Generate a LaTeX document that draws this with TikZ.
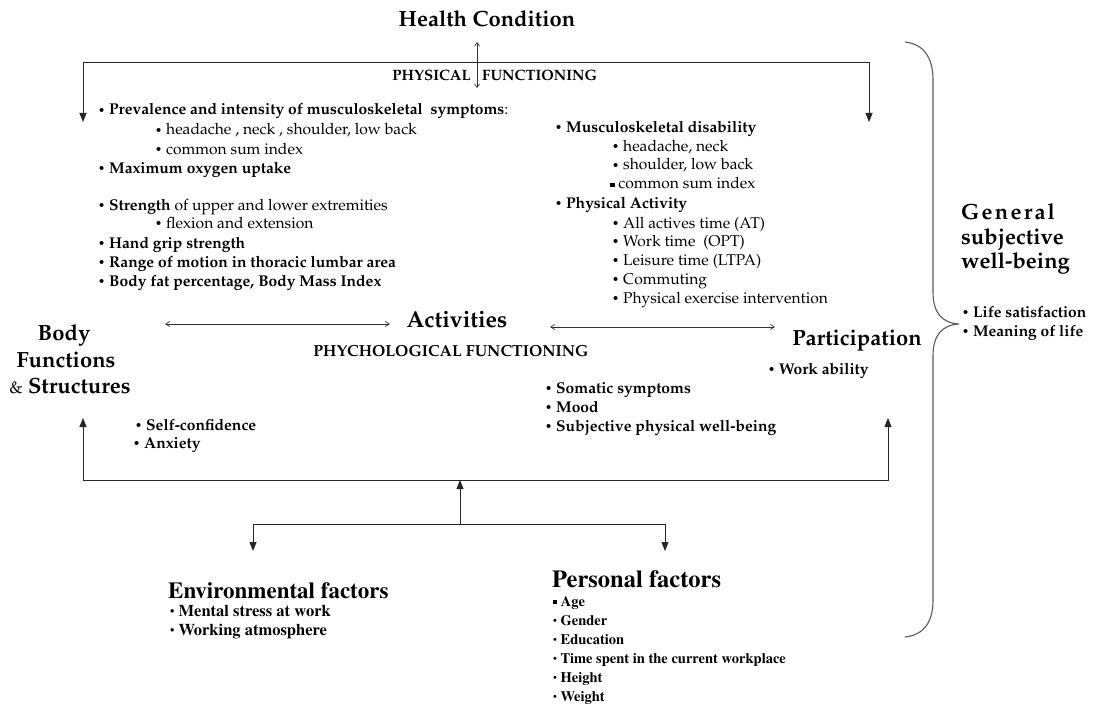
\documentclass[tikz,border=0pt]{standalone}
\usepackage[T1]{fontenc}
\usepackage{mathpazo}
\usepackage{graphicx}
\usetikzlibrary{arrows.meta}
\newcommand\myfs[1]{\fontsize{#1}{#1}\selectfont}
\newcommand\bul{\raisebox{0.1ex}{\scalebox{0.75}{\textbullet}}\ }
\newcommand\sqb{\rule[0.25ex]{0.28em}{0.28em}\ }
\newcommand\tms{\fontfamily{ptm}\selectfont}
\makeatletter
\newcommand\spacedword[2]{\def\my@sp{#1}\@tfor\my@c:=#2\do{\my@c\kern\my@sp}}
\makeatother
\begin{document}
\begin{tikzpicture}[x=1pt,y=-1pt,
  txt/.style={anchor=base west,inner sep=0pt,font=\myfs{15.6}},
  btxt/.style={txt,font=\myfs{15.6}\bfseries},
  head/.style={anchor=base,inner sep=0pt,font=\myfs{22}\bfseries},
  caps/.style={inner sep=0pt,font=\myfs{15}\bfseries},
  ttxt/.style={anchor=base west,inner sep=0pt,font=\myfs{14.5}\tms\bfseries},
  etxt/.style={anchor=base west,inner sep=0pt,font=\myfs{16.5}\tms\bfseries},
  gtxt/.style={anchor=base west,inner sep=0pt,font=\myfs{22}\bfseries},
  ln/.style={line width=0.8pt,draw=black!85},
  tri/.style={ln,-{Triangle[length=9pt,width=7pt]}},
  thin/.style={line width=0.7pt,draw=black!80,{Straight Barb[length=4pt,width=5pt]}-{Straight Barb[length=4pt,width=5pt]}},
  brace/.style={line width=1.1pt,draw=black!65}]
\useasboundingbox (0,0) rectangle (1095,706);

% ---------- headings ----------
\node[head] (hc) at (487,27) {Health Condition};
\node[caps,anchor=base east] (pf1) at (471,81) {PHYSICAL};
\node[caps,anchor=base west] (pf2) at (482,81) {FUNCTIONING};
\node[head] (body) at (64,340) {Body};
\node[head] (func) at (66,367) {Functions};
\node[head] (struct) at (70,393) {{\mdseries\myfs{17}\&} Structures};
\node[head,font=\myfs{23}\bfseries] (act) at (457,327) {Activities};
\node[head] (part) at (857,345) {Participation};
\node[caps,anchor=base,font=\myfs{16}\bfseries] (psy) at (451,356) {PHYCHOLOGICAL FUNCTIONING};

% ---------- physical functioning, left ----------
\node[btxt] (l1) at (98,115) {\bul Prevalence and intensity of musculoskeletal\ \ symptoms\mdseries:};
\node[txt] (l2) at (155,135) {\bul headache , neck , shoulder, low back};
\node[txt] (l3) at (155,154) {\bul common sum index};
\node[btxt] (l4) at (98,173) {\bul Maximum oxygen uptake};
\node[txt] (l5) at (98,210) {\bul \textbf{Strength} of upper and lower extremities};
\node[txt] (l6) at (155,228) {\bul flexion and extension};
\node[btxt] (l7) at (98,248) {\bul Hand grip strength};
\node[btxt] (l8) at (98,267) {\bul Range of motion in thoracic lumbar area};
\node[btxt] (l9) at (98,286) {\bul Body fat percentage, Body Mass Index};

% ---------- physical functioning, right ----------
\node[btxt] (r1) at (555,132) {\bul Musculoskeletal disability};
\node[txt] (r2) at (612,151) {\bul headache, neck};
\node[txt] (r3) at (612,170) {\bul shoulder, low back};
\node[txt] (r4) at (610,189) {\sqb common sum index};
\node[btxt] (r5) at (555,208) {\bul Physical Activity};
\node[txt] (r6) at (612,228) {\bul All actives time (AT)};
\node[txt] (r7) at (612,246) {\bul Work time\ \ (OPT)};
\node[txt] (r8) at (612,265) {\bul Leisure time (LTPA)};
\node[txt] (r9) at (612,284) {\bul Commuting};
\node[txt] (r10) at (612,303) {\bul Physical exercise intervention};

% ---------- psychological ----------
\node[btxt] (wa) at (768,374) {\bul Work ability};
\node[btxt] (s1) at (545,393) {\bul Somatic symptoms};
\node[btxt] (s2) at (545,412) {\bul Mood};
\node[btxt] (s3) at (545,431) {\bul Subjective physical well-being};
\node[btxt] (sc) at (135,430) {\bul Self-confidence};
\node[btxt] (ax) at (133,448) {\bul Anxiety};

% ---------- general well-being ----------
\node[gtxt] (g1) at (961,219) {\spacedword{2.2pt}{General}};
\node[gtxt] (g2) at (961,244) {subjective};
\node[gtxt] (g3) at (961,268) {well-being};
\node[anchor=base west,inner sep=0pt,font=\myfs{15.5}\bfseries] (g4) at (962,317) {\bul Life satisfaction};
\node[anchor=base west,inner sep=0pt,font=\myfs{15.5}\bfseries] (g5) at (962,336) {\bul Meaning of life};

% ---------- factors ----------
\node[anchor=base west,inner sep=0pt,font=\myfs{23}\tms\bfseries] (env) at (168,598) {Environmental factors};
\node[etxt] (e1) at (170,616) {\bul Mental stress at work};
\node[etxt] (e2) at (170,635) {\bul Working atmosphere};
\node[anchor=base west,inner sep=0pt,font=\myfs{24.5}\tms\bfseries] (pers) at (552,587) {Personal factors};
\node[ttxt] (p1) at (553,606) {\sqb Age};
\node[ttxt] (p2) at (553,625) {\bul Gender};
\node[ttxt] (p3) at (553,644) {\bul Education};
\node[ttxt] (p4) at (553,663) {\bul Time spent in the current workplace};
\node[ttxt] (p5) at (553,682) {\bul Height};
\node[ttxt] (p6) at (553,701) {\bul Weight};

% ---------- connectors ----------
\coordinate (hcu) at (477,42);
\coordinate (hcd) at (477,88);
\draw[line width=0.7pt,draw=black!80,{Straight Barb[length=3.5pt,width=5pt]}-{Straight Barb[length=3.5pt,width=5pt]}] (hcu) -- (hcd);

\coordinate (tl) at (83,62);
\coordinate (tr) at (869,62);
\coordinate (tla) at (83,122);
\coordinate (tra) at (869,122);
\draw[tri] (tl) -- (tla);
\draw[tri] (tl) -- (tr) -- (tra);

\coordinate (ba1) at (165,324);
\coordinate (ba2) at (390,324);
\coordinate (ba3) at (550,327);
\coordinate (ba4) at (775,327);
\draw[thin] (ba1) -- (ba2);
\draw[thin] (ba3) -- (ba4);

\coordinate (bl) at (83,480);
\coordinate (br) at (888,480);
\coordinate (bla) at (83,418);
\coordinate (bra) at (888,418);
\draw[tri] (bl) -- (bla);
\draw[tri] (bl) -- (br) -- (bra);

\coordinate (mid) at (460,524);
\coordinate (midt) at (460,480);
\draw[tri] (mid) -- (midt);
\coordinate (fl) at (253,524);
\coordinate (fr) at (665,524);
\coordinate (fla) at (253,551);
\coordinate (fra) at (665,551);
\draw[tri] (fl) -- (fla);
\draw[tri] (fl) -- (fr) -- (fra);

% ---------- brace ----------
\coordinate (bt) at (905,42);
\coordinate (bb) at (905,637);
\coordinate (btip) at (959,324);
\draw[brace] (bt) .. controls (924,44) and (933,58) .. (933,80)
  -- (933,292) .. controls (933,313) and (942,323) .. (btip)
  .. controls (942,325) and (933,335) .. (933,356)
  -- (933,600) .. controls (933,622) and (924,635) .. (bb);
\end{tikzpicture}
\end{document}
